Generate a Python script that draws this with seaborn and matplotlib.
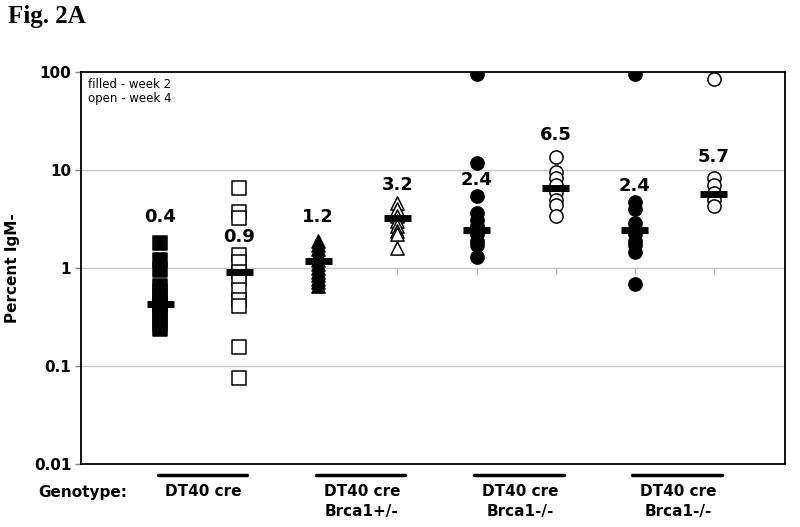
import numpy as np
import pandas as pd
import matplotlib
matplotlib.use("Agg")
import matplotlib.pyplot as plt
import seaborn as sns

# values (percent IgM-)
dt40_wk2 = [1.8, 1.2, 0.95, 0.65, 0.58, 0.5, 0.45, 0.42, 0.37, 0.32, 0.27, 0.24]
dt40_wk4 = [6.5, 3.7, 3.2, 1.35, 1.15, 0.9, 0.78, 0.6, 0.47, 0.41, 0.155, 0.076]
het_wk2 = [1.9, 1.7, 1.55, 1.4, 1.3, 1.2, 1.1, 1.0, 0.92, 0.85, 0.78, 0.72, 0.66]
het_wk4 = [4.6, 4.0, 3.4, 3.0, 2.7, 2.4, 2.2, 1.6]
ko1_wk2 = [96, 11.7, 5.4, 3.6, 3.1, 2.7, 2.4, 2.2, 1.9, 1.7, 1.28]
ko1_wk4 = [13.5, 9.5, 8.2, 7.0, 6.0, 5.0, 4.4, 3.4]
ko2_wk2 = [96, 4.7, 4.0, 2.9, 2.5, 2.2, 1.9, 1.7, 1.45, 0.69]
ko2_wk4 = [85, 8.2, 7.0, 5.8, 5.0, 4.3]

columns = [dt40_wk2, dt40_wk4, het_wk2, het_wk4, ko1_wk2, ko1_wk4, ko2_wk2, ko2_wk4]
medians = [0.43, 0.92, 1.17, 3.2, 2.42, 6.5, 2.42, 5.7]
label_y = [3.3, 2.05, 3.3, 7.0, 7.9, 23, 6.8, 13.5]
genotypes = ["DT40 cre", "DT40 cre\nBrca1+/-", "DT40 cre\nBrca1-/-", "DT40 cre\nBrca1-/-"]

markers = ["s", "s", "^", "^", "o", "o", "o", "o"]
filled = [True, False, True, False, True, False, True, False]

rows = []
for i, col in enumerate(columns):
    for v in col:
        rows.append({"pos": i + 1, "value": v})
df = pd.DataFrame(rows)

sns.set_style("white")
plt.rcParams['font.family'] = ['DejaVu Sans']
plt.rcParams['text.color'] = 'black'
plt.rcParams['axes.labelcolor'] = 'black'
plt.rcParams['ytick.color'] = 'black'

fig = plt.figure(figsize=(8, 5.27), dpi=100)
ax = fig.add_axes([81/800, 1 - 464/527, (785 - 81)/800, (464 - 72)/527])

ax.set_yscale("log")
ax.set_ylim(0.01, 100)
ax.set_xlim(0, 8.9)

for y in [0.1, 1, 10]:
    ax.axhline(y, color="#c8c8c8", lw=1, zorder=0)
ax.plot(range(1, 9), [1] * 8, linestyle="none", marker=3, markersize=4,
        color="#b0b0b0", zorder=0)

for i in range(8):
    sub = df[df["pos"] == i + 1]
    sns.scatterplot(data=sub, x="pos", y="value", ax=ax, marker=markers[i],
                    s=90 if markers[i] != "s" else 95,
                    facecolor="black" if filled[i] else "white",
                    edgecolor="black", linewidth=1.1, zorder=3, legend=False)

positions = np.arange(1, 9)
ax.hlines(medians, positions - 0.17, positions + 0.17, color="black", lw=5, zorder=4)
for p, m, ly in zip(positions, medians, label_y):
    ax.text(p, ly, "{:.1f}".format(m), ha="center", va="center",
            fontsize=13, fontweight="bold", zorder=5)

ax.set_xlabel("")
ax.set_ylabel("Percent IgM-", fontsize=11, fontweight="bold", labelpad=10)
ax.set_xticks([])
ax.set_yticks([0.01, 0.1, 1, 10, 100])
ax.set_yticklabels(["0.01", "0.1", "1", "10", "100"], fontsize=11, fontweight="bold")
ax.minorticks_off()
ax.tick_params(axis="y", left=True, length=4, width=1, color="#808080", pad=3)
for s in ax.spines.values():
    s.set_color("black")
    s.set_linewidth(1.3)

ax.text(0.01, 0.985, "filled - week 2\nopen - week 4", transform=ax.transAxes,
        ha="left", va="top", fontsize=8.5, linespacing=1.15)

trans = ax.get_xaxis_transform()
for k, g in enumerate(genotypes):
    left = 1 + 2 * k
    ax.plot([left - 0.03, left + 1.1], [-0.028, -0.028], color="black", lw=2.5,
            transform=trans, clip_on=False)
    ax.text(left + 0.55, -0.05, g, transform=trans, ha="center", va="top",
            fontsize=11, fontweight="bold", linespacing=1.45)
fig.text(38/800, 1 - 493/527, "Genotype:", ha="left", va="center",
         fontsize=11, fontweight="bold")

fig.text(8/800, 1 - 17/527, "Fig. 2A", ha="left", va="center", fontsize=18,
         fontweight="bold", family="Liberation Serif")

fig.savefig("out.png", dpi=100)
